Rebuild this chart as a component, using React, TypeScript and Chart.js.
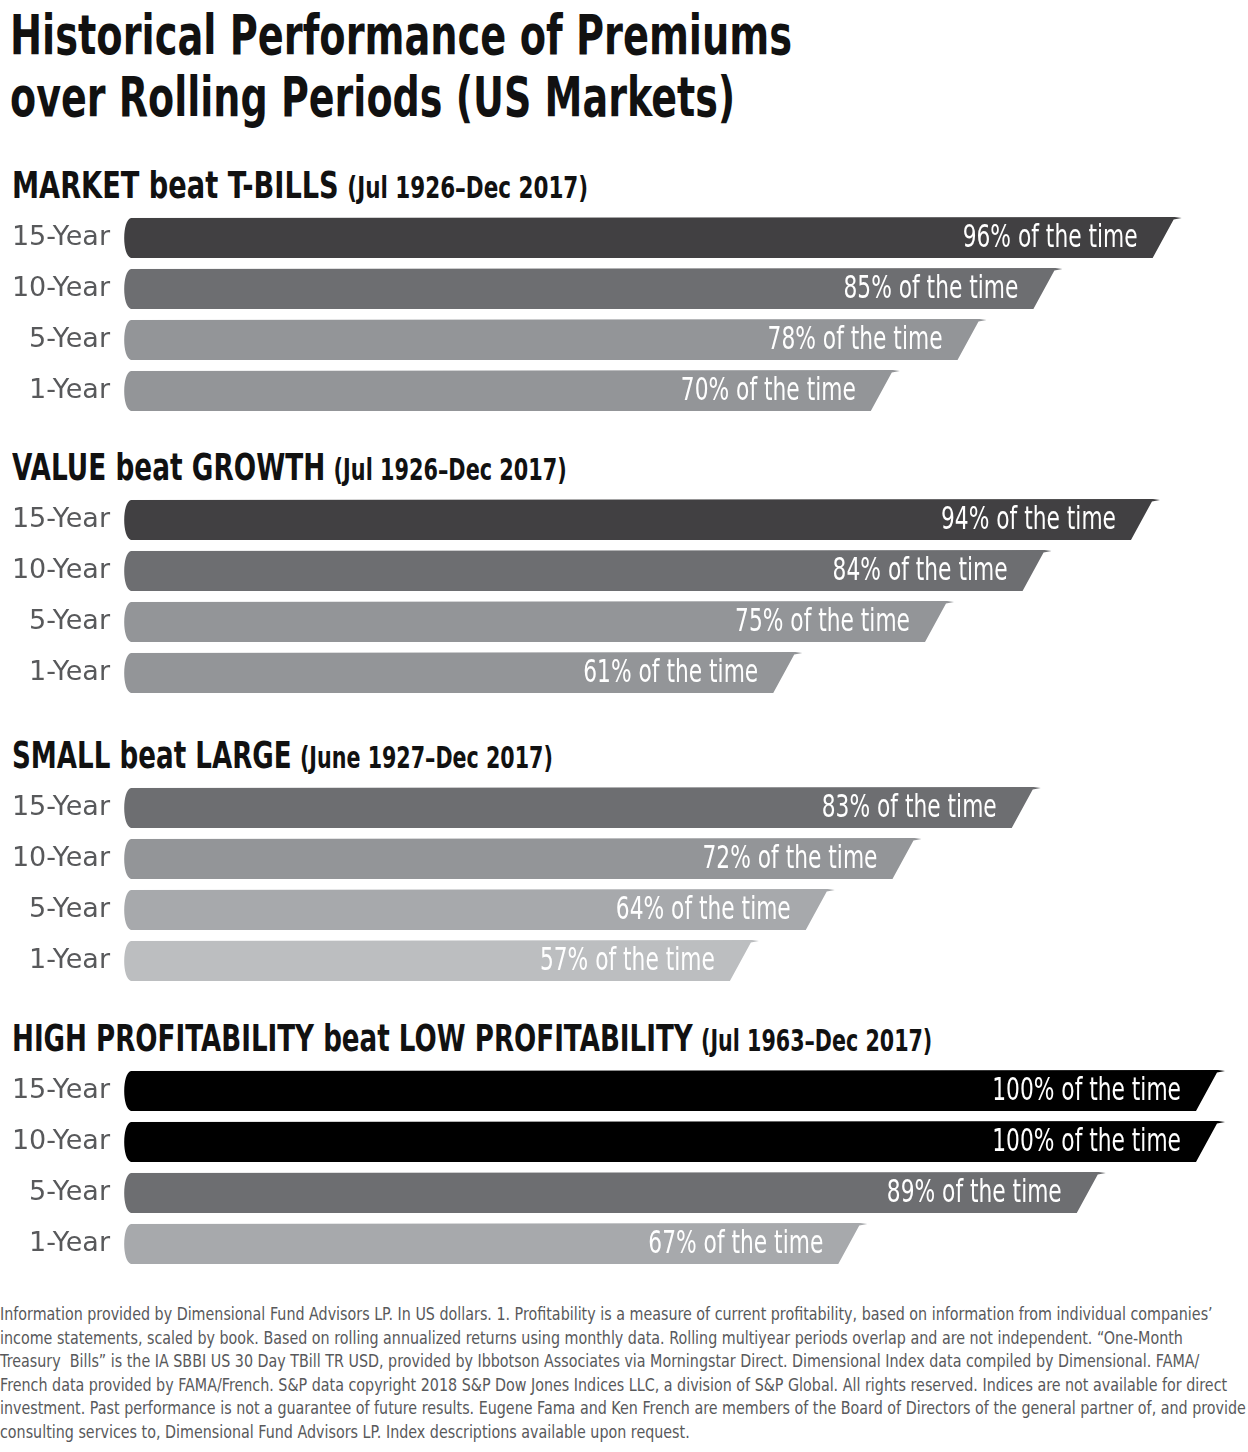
import React, { useEffect, useLayoutEffect, useRef } from "react";
import { Chart, registerables } from "chart.js";

Chart.register(...registerables);

// ---------- data ----------
const periods = ["15-Year", "10-Year", "5-Year", "1-Year"];
const marketBeatTBills = [96, 85, 78, 70];
const valueBeatGrowth = [94, 84, 75, 61];
const smallBeatLarge = [83, 72, 64, 57];
const highBeatLowProfitability = [100, 100, 89, 67];

const groupHeads = [
  "MARKET beat T-BILLS",
  "VALUE beat GROWTH",
  "SMALL beat LARGE",
  "HIGH PROFITABILITY beat LOW PROFITABILITY",
];
const groupRanges = [
  "(Jul 1926–Dec 2017)",
  "(Jul 1926–Dec 2017)",
  "(June 1927–Dec 2017)",
  "(Jul 1963–Dec 2017)",
];
const labelSuffix = "% of the time";

const titleLines = [
  "Historical Performance of Premiums",
  "over Rolling Periods (US Markets)",
];

const footnoteLines = [
  "Information provided by Dimensional Fund Advisors LP. In US dollars. 1. Profitability is a measure of current profitability, based on information from individual companies’",
  "income statements, scaled by book. Based on rolling annualized returns using monthly data. Rolling multiyear periods overlap and are not independent. “One-Month",
  "Treasury  Bills” is the IA SBBI US 30 Day TBill TR USD, provided by Ibbotson Associates via Morningstar Direct. Dimensional Index data compiled by Dimensional. FAMA/",
  "French data provided by FAMA/French. S&P data copyright 2018 S&P Dow Jones Indices LLC, a division of S&P Global. All rights reserved. Indices are not available for direct",
  "investment. Past performance is not a guarantee of future results. Eugene Fama and Ken French are members of the Board of Directors of the general partner of, and provide",
  "consulting services to, Dimensional Fund Advisors LP. Index descriptions available upon request.",
];

// ---------- styles ----------
const colorsMarket = ["#414042", "#6d6e71", "#939598", "#939598"];
const colorsValue = ["#414042", "#6d6e71", "#939598", "#939598"];
const colorsSmall = ["#6d6e71", "#939598", "#a7a9ac", "#bcbec0"];
const colorsProf = ["#000000", "#000000", "#6d6e71", "#a7a9ac"];

const FONT = '"DejaVu Sans", "Liberation Sans", sans-serif';

const groups = [
  { values: marketBeatTBills, colors: colorsMarket, headY: 163, headW: 576, chartTop: 212 },
  { values: valueBeatGrowth, colors: colorsValue, headY: 445, headW: 555, chartTop: 494 },
  { values: smallBeatLarge, colors: colorsSmall, headY: 733, headW: 541, chartTop: 782 },
  { values: highBeatLowProfitability, colors: colorsProf, headY: 1016, headW: 920, chartTop: 1065 },
];

const brushBars = {
  id: "brushBars",
  beforeDatasetsDraw(chart: any) {
    const ctx = chart.ctx;
    const meta = chart.getDatasetMeta(0);
    const ds = chart.data.datasets[0];
    meta.data.forEach((el: any, i: number) => {
      const { x, y, base, height } = el.getProps(["x", "y", "base", "height"], true);
      const top = y - height / 2;
      const bottom = y + height / 2;
      const s = 11;
      ctx.save();
      ctx.fillStyle = ds.backgroundColor[i];
      ctx.beginPath();
      ctx.moveTo(base + 8, top + 1);
      ctx.lineTo(x + s, top);
      ctx.lineTo(x + s + 7, top + 1);
      ctx.lineTo(x + s - 1, top + 2.5);
      ctx.lineTo(x - s, bottom);
      ctx.lineTo(base + 8, bottom);
      ctx.bezierCurveTo(base - 1, bottom - 2, base - 1, top + 3, base + 8, top + 1);
      ctx.closePath();
      ctx.fill();
      const txt = `${ds.data[i]}${labelSuffix}`;
      ctx.fillStyle = "#ffffff";
      ctx.font = `32px ${FONT}`;
      ctx.textAlign = "right";
      ctx.textBaseline = "middle";
      const w = ctx.measureText(txt).width;
      ctx.fillText(txt, x + s - 37, y + 1, w * 0.68);
      ctx.restore();
    });
    return false;
  },
};

function FitText({ width, style, children }: { width: number; style: any; children: any }) {
  const ref = useRef<HTMLDivElement>(null);
  useLayoutEffect(() => {
    const el = ref.current;
    if (!el) return;
    el.style.transform = "none";
    const w = el.offsetWidth;
    if (w > 0) el.style.transform = `scaleX(${width / w})`;
  }, [width]);
  return (
    <div
      ref={ref}
      style={{ position: "absolute", display: "inline-block", transformOrigin: "0 50%", whiteSpace: "nowrap", ...style }}
    >
      {children}
    </div>
  );
}

function BarGroup({ values, colors, top }: { values: number[]; colors: string[]; top: number }) {
  const ref = useRef<HTMLCanvasElement>(null);
  useEffect(() => {
    if (!ref.current) return;
    const chart = new Chart(ref.current, {
      type: "bar",
      data: {
        labels: periods,
        datasets: [
          {
            data: values,
            backgroundColor: colors,
            categoryPercentage: 1,
            barPercentage: 0.8,
          },
        ],
      },
      options: {
        indexAxis: "y",
        responsive: false,
        maintainAspectRatio: false,
        animation: false,
        layout: { padding: { left: 0, right: 41, top: 0, bottom: 0 } },
        plugins: { legend: { display: false }, tooltip: { enabled: false } },
        scales: {
          x: { display: false, min: 0, max: 100 },
          y: {
            grid: { display: false, drawTicks: false },
            border: { display: false },
            ticks: { color: "#58595b", font: { family: FONT, size: 27 }, padding: 13 },
            afterFit: (s: any) => {
              s.width = 123;
              s.paddingTop = 0;
              s.paddingBottom = 0;
            },
          },
        },
      },
      plugins: [brushBars],
    } as any);
    return () => chart.destroy();
  }, [values, colors]);
  return (
    <canvas
      ref={ref}
      width={1248}
      height={204}
      style={{ position: "absolute", left: 0, top, width: 1248, height: 204 }}
    />
  );
}

export default function App() {
  useEffect(() => {
    document.body.style.margin = "0";
  }, []);
  return (
    <div style={{ position: "relative", width: 1248, height: 1452, background: "#fff", fontFamily: FONT, overflow: "hidden" }}>
      {titleLines.map((t, i) => (
        <FitText
          key={t}
          width={i === 0 ? 782 : 725}
          style={{
            left: 10,
            top: 4 + i * 62,
            fontSize: 56,
            fontWeight: 700,
            lineHeight: "62px",
            color: "#111",
          }}
        >
          {t}
        </FitText>
      ))}
      {groups.map((g, i) => (
        <React.Fragment key={i}>
          <FitText
            width={g.headW}
            style={{
              left: 12,
              top: g.headY,
              height: 44,
              lineHeight: "44px",
              fontWeight: 700,
              color: "#111",
            }}
          >
            <span style={{ fontSize: 38 }}>{groupHeads[i]}</span>
            <span style={{ fontSize: 30, marginLeft: 12 }}>{groupRanges[i]}</span>
          </FitText>
          <BarGroup values={g.values} colors={g.colors} top={g.chartTop} />
        </React.Fragment>
      ))}
      <FitText
        width={1246}
        style={{
          left: 0,
          top: 1303,
          fontSize: 17,
          lineHeight: "23.6px",
          color: "#58595b",
          whiteSpace: "pre",
          transformOrigin: "0 0",
        }}
      >
        {footnoteLines.join("\n")}
      </FitText>
    </div>
  );
}
